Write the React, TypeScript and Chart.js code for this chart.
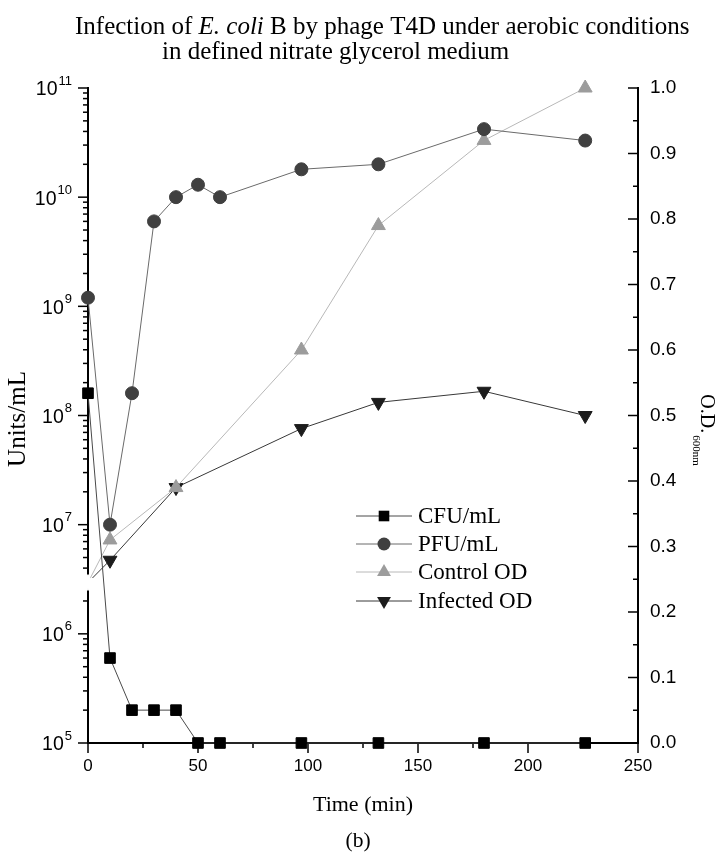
import React, { useEffect, useRef } from "react";
import { Chart, registerables } from "chart.js";

Chart.register(...registerables);

// ---------- data ----------
const timeMin = [0, 10, 20, 30, 40, 50, 60, 97, 132, 180, 226];
const cfuPerMl = [1.6e8, 6e5, 2e5, 2e5, 2e5, 1e5, 1e5, 1e5, 1e5, 1e5, 1e5];
const pfuPerMl = [1.2e9, 1e7, 1.6e8, 6e9, 1e10, 1.3e10, 1e10, 1.8e10, 2e10, 4.2e10, 3.3e10];
const odTimeMin = [0, 10, 40, 97, 132, 180, 226];
const controlOD = [0.245, 0.31, 0.39, 0.6, 0.79, 0.92, 1.0];
const infectedOD = [0.245, 0.279, 0.39, 0.48, 0.52, 0.537, 0.5];
const xTicks = [0, 50, 100, 150, 200, 250];
const leftExponents = [5, 6, 7, 8, 9, 10, 11];
const rightTicks = [0, 0.1, 0.2, 0.3, 0.4, 0.5, 0.6, 0.7, 0.8, 0.9, 1.0];
const legendLabels = ["CFU/mL", "PFU/mL", "Control OD", "Infected OD"];

// ---------- styles ----------
const SERIF = '"Liberation Serif", "Times New Roman", Times, serif';
const SANS = '"Liberation Sans", Arial, Helvetica, sans-serif';

type Style = { line: string; fill: string; shape: "rect" | "circle" | "tri" | "triDown"; r: number };
const styles: Style[] = [
  { line: "#4a4a4a", fill: "#000000", shape: "rect", r: 7.5 },
  { line: "#6a6a6a", fill: "#404040", shape: "circle", r: 6.5 },
  { line: "#b8b8b8", fill: "#9c9c9c", shape: "tri", r: 8 },
  { line: "#383838", fill: "#1c1c1c", shape: "triDown", r: 8 },
];

function pts(xs: number[], ys: number[]) {
  return xs.map((x, i) => ({ x, y: ys[i] }));
}

function drawMarker(ctx: CanvasRenderingContext2D, s: Style, x: number, y: number) {
  ctx.save();
  ctx.fillStyle = s.fill;
  ctx.beginPath();
  if (s.shape === "rect") {
    const h = s.r * Math.SQRT1_2;
    ctx.rect(x - h, y - h, 2 * h, 2 * h);
  } else if (s.shape === "circle") {
    ctx.arc(x, y, s.r, 0, Math.PI * 2);
  } else {
    const dir = s.shape === "tri" ? -1 : 1;
    for (let k = 0; k < 3; k++) {
      const a = (dir < 0 ? -Math.PI / 2 : Math.PI / 2) + (k * 2 * Math.PI) / 3;
      const px = x + s.r * Math.cos(a);
      const py = y + s.r * Math.sin(a);
      if (k === 0) ctx.moveTo(px, py);
      else ctx.lineTo(px, py);
    }
    ctx.closePath();
  }
  ctx.fill();
  ctx.restore();
}

const decor = {
  id: "decor",
  beforeDatasetsDraw(chart: any) {
    const ctx: CanvasRenderingContext2D = chart.ctx;
    const { x, yL, yR } = chart.scales;
    const a = chart.chartArea;
    ctx.save();
    ctx.strokeStyle = "#000";
    ctx.lineWidth = 1.5;
    const seg = (x1: number, y1: number, x2: number, y2: number) => {
      ctx.beginPath();
      ctx.moveTo(x1, y1);
      ctx.lineTo(x2, y2);
      ctx.stroke();
    };
    for (let v = 0; v <= 250; v += 25) {
      const px = x.getPixelForValue(v);
      seg(px, a.bottom, px, a.bottom + (v % 50 === 0 ? 10 : 5));
    }
    for (const e of leftExponents) {
      for (let m = 1; m <= 9; m++) {
        if (e === 11 && m > 1) break;
        const py = yL.getPixelForValue(m * Math.pow(10, e));
        seg(a.left - (m === 1 ? 10 : 5), py, a.left, py);
      }
    }
    for (let i = 0; i <= 20; i++) {
      const py = yR.getPixelForValue(i * 0.05);
      seg(a.right - (i % 2 === 0 ? 10 : 5), py, a.right, py);
    }
    ctx.restore();
  },
  afterDraw(chart: any) {
    const ctx: CanvasRenderingContext2D = chart.ctx;
    const { x, yL } = chart.scales;
    ctx.save();
    ctx.fillStyle = "#000";

    // left tick labels 10^n
    ctx.textBaseline = "middle";
    for (const e of leftExponents) {
      const py = yL.getPixelForValue(Math.pow(10, e));
      ctx.font = `13px ${SANS}`;
      const ex = String(e);
      const we = ctx.measureText(ex).width;
      ctx.textAlign = "left";
      ctx.fillText(ex, 72 - we, py - 7);
      ctx.font = `19.5px ${SANS}`;
      ctx.textAlign = "right";
      ctx.fillText("10", 72 - we - 1, py + 2);
    }

    // title
    ctx.textBaseline = "alphabetic";
    ctx.textAlign = "left";
    const tSize = 25;
    const segs: [string, boolean][] = [
      ["Infection of ", false],
      ["E. coli", true],
      [" B by phage T4D under aerobic conditions", false],
    ];
    let tx = 75;
    for (const [t, it] of segs) {
      ctx.font = `${it ? "italic " : ""}${tSize}px ${SERIF}`;
      ctx.fillText(t, tx, 34);
      tx += ctx.measureText(t).width;
    }
    ctx.font = `${tSize}px ${SERIF}`;
    ctx.fillText("in defined nitrate glycerol medium", 162, 59);

    // x title and panel letter
    ctx.textAlign = "center";
    ctx.textBaseline = "middle";
    ctx.font = `22px ${SERIF}`;
    ctx.fillText("Time (min)", x.getPixelForValue(125), 805);
    ctx.font = `21.5px ${SERIF}`;
    ctx.fillText("(b)", 358, 841);

    // left title
    ctx.save();
    ctx.translate(18, 419);
    ctx.rotate(-Math.PI / 2);
    ctx.font = `25px ${SERIF}`;
    ctx.textAlign = "center";
    ctx.textBaseline = "middle";
    ctx.fillText("Units/mL", 0, 0);
    ctx.restore();

    // right title O.D. with subscript
    ctx.save();
    ctx.translate(706, 0);
    ctx.rotate(Math.PI / 2);
    ctx.textAlign = "left";
    ctx.textBaseline = "middle";
    ctx.font = `20px ${SERIF}`;
    const mainT = "O.D.";
    const wMain = ctx.measureText(mainT).width;
    ctx.font = `11px ${SERIF}`;
    const subT = "600nm";
    const wSub = ctx.measureText(subT).width;
    const startY = 430 - (wMain + 2 + wSub) / 2;
    ctx.font = `20px ${SERIF}`;
    ctx.fillText(mainT, startY, 0);
    ctx.font = `11px ${SERIF}`;
    ctx.fillText(subT, startY + wMain + 2, 10);
    ctx.restore();

    // legend
    const rows = [516, 544, 572, 601];
    ctx.textAlign = "left";
    ctx.textBaseline = "middle";
    ctx.font = `23px ${SERIF}`;
    legendLabels.forEach((lab, i) => {
      const s = styles[i];
      const y = rows[i];
      ctx.strokeStyle = s.line;
      ctx.lineWidth = 1;
      ctx.beginPath();
      ctx.moveTo(356, y);
      ctx.lineTo(412, y);
      ctx.stroke();
      drawMarker(ctx, s, 384, y);
      ctx.fillStyle = "#000";
      ctx.fillText(lab, 418, y + 1);
    });
    ctx.restore();
  },
};

function dataset(label: string, data: { x: number; y: number }[], s: Style, axis: string, hideFirst: boolean) {
  const bg = data.map((_, i) => (hideFirst && i === 0 ? "#ffffff" : s.fill));
  return {
    label,
    data,
    yAxisID: axis,
    borderColor: s.line,
    borderWidth: 1,
    tension: 0,
    fill: false,
    clip: false as any,
    pointStyle: s.shape === "circle" ? "circle" : s.shape === "rect" ? "rect" : "triangle",
    rotation: s.shape === "triDown" ? 180 : 0,
    pointRadius: s.r,
    pointHoverRadius: s.r,
    pointBackgroundColor: bg,
    pointBorderColor: bg,
    pointBorderWidth: 1,
  };
}

export default function App() {
  const ref = useRef<HTMLCanvasElement>(null);
  useEffect(() => {
    const canvas = ref.current!;
    Chart.defaults.font.family = SANS;
    Chart.defaults.color = "#000";
    const chart = new Chart(canvas, {
      type: "line",
      data: {
        datasets: [
          dataset(legendLabels[0], pts(timeMin, cfuPerMl), styles[0], "yL", false),
          dataset(legendLabels[1], pts(timeMin, pfuPerMl), styles[1], "yL", false),
          dataset(legendLabels[2], pts(odTimeMin, controlOD), styles[2], "yR", true),
          dataset(legendLabels[3], pts(odTimeMin, infectedOD), styles[3], "yR", true),
        ] as any,
      },
      options: {
        responsive: false,
        animation: false,
        devicePixelRatio: 1,
        layout: { padding: { top: 88, left: 0, right: 0, bottom: 0 } },
        plugins: {
          legend: { display: false },
          title: { display: false },
          tooltip: { enabled: false },
        },
        scales: {
          x: {
            type: "linear",
            min: 0,
            max: 250,
            position: "bottom",
            afterFit: (s: any) => {
              s.height = 113;
            },
            afterBuildTicks: (s: any) => {
              s.ticks = xTicks.map((v) => ({ value: v }));
            },
            ticks: { font: { size: 17, family: SANS }, color: "#000", padding: 13, maxRotation: 0, autoSkip: false },
            grid: { display: true, drawOnChartArea: false, drawTicks: false },
            border: { display: true, color: "#000", width: 2 },
          },
          yL: {
            type: "logarithmic",
            min: 1e5,
            max: 1e11,
            position: "left",
            afterFit: (s: any) => {
              s.width = 88;
            },
            ticks: { display: false },
            grid: { display: true, drawOnChartArea: false, drawTicks: false },
            border: { display: true, color: "#000", width: 2 },
          },
          yR: {
            type: "linear",
            min: 0,
            max: 1,
            position: "right",
            afterFit: (s: any) => {
              s.width = 78;
            },
            afterBuildTicks: (s: any) => {
              s.ticks = rightTicks.map((v) => ({ value: v }));
            },
            ticks: {
              font: { size: 19, family: SANS },
              color: "#000",
              padding: 12,
              autoSkip: false,
              callback: (v: any) => Number(v).toFixed(1),
            },
            grid: { display: true, drawOnChartArea: false, drawTicks: false },
            border: { display: true, color: "#000", width: 2 },
          },
        },
      } as any,
      plugins: [decor as any],
    });
    return () => chart.destroy();
  }, []);
  return (
    <div style={{ position: "fixed", left: 0, top: 0, width: 716, height: 856, background: "#fff" }}>
      <canvas ref={ref} width={716} height={856} style={{ display: "block", width: 716, height: 856 }} />
    </div>
  );
}
